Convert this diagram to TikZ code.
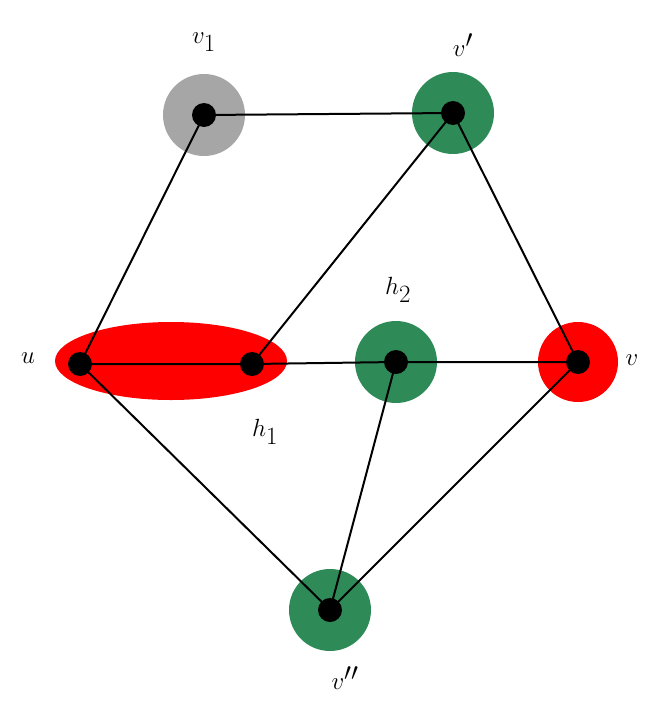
\documentclass[tikz,border=0pt]{standalone}
\definecolor{gr}{RGB}{46,139,87}
\begin{document}
\begin{tikzpicture}[x=1pt,y=-1pt,
  dot/.style={circle,fill=black,inner sep=0,minimum size=24pt},
  lab/.style={font=\fontsize{40}{48}\selectfont},
  ed/.style={line width=2pt}]
\useasboundingbox (0,0) rectangle (668,718);
\fill[red] (171,361) ellipse (116 and 39);
\fill[red] (578,362) circle (40);
\fill[gray!70] (204,115) circle (41);
\fill[gr] (453,113) circle (41);
\fill[gr] (396,362) circle (41);
\fill[gr] (330,610) circle (41);
\node[dot] (v1) at (204,115) {};
\node[dot] (vp) at (453,113) {};
\node[dot] (u) at (80,364) {};
\node[dot] (h1) at (252,364) {};
\node[dot] (h2) at (396,362) {};
\node[dot] (v) at (578,362) {};
\node[dot] (vpp) at (330,610) {};
\draw[ed] (v1.center)--(vp.center) (v1.center)--(u.center) (vp.center)--(h1.center)
 (vp.center)--(v.center) (u.center)--(h1.center)--(h2.center)--(v.center)
 (u.center)--(vpp.center) (h2.center)--(vpp.center) (v.center)--(vpp.center);
\node[lab] (l1) at (204,42) {$v_1$};
\node[lab] (l2) at (463,45) {$v'$};
\node[lab] (l3) at (28,358) {$u$};
\node[lab] (l4) at (398,290) {$h_2$};
\node[lab] (l5) at (265,432) {$h_1$};
\node[lab] (l6) at (632,360) {$v$};
\node[lab] (l7) at (345,678) {$v''$};
\end{tikzpicture}
\end{document}
